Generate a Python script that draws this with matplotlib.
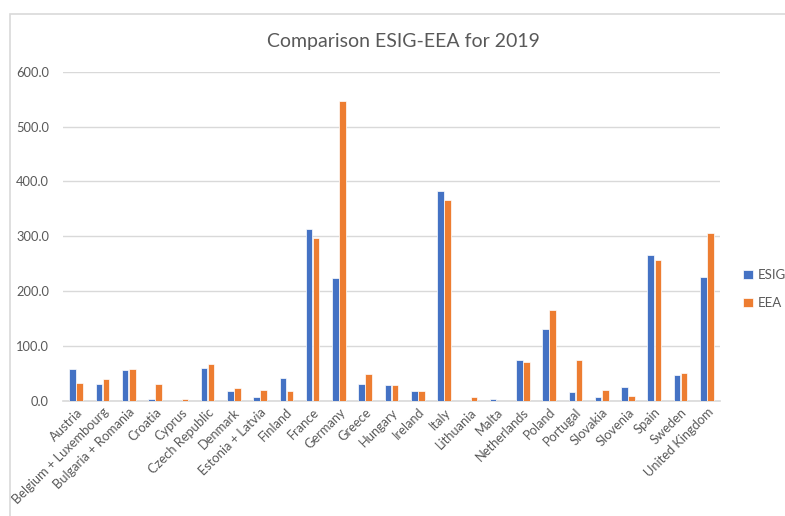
import matplotlib
matplotlib.use("Agg")
import matplotlib.pyplot as plt
import numpy as np
from matplotlib.patches import Rectangle

categories = ["Austria", "Belgium + Luxembourg", "Bulgaria + Romania", "Croatia", "Cyprus",
              "Czech Republic", "Denmark", "Estonia + Latvia", "Finland", "France", "Germany",
              "Greece", "Hungary", "Ireland", "Italy", "Lithuania", "Malta", "Netherlands",
              "Poland", "Portugal", "Slovakia", "Slovenia", "Spain", "Sweden", "United Kingdom"]
esig = [58, 30.5, 55, 2, 0, 60, 18, 5.5, 41.5, 312.6, 223, 30.5, 27.4, 16.5, 383,
        0, 2, 74.4, 131, 14.6, 5.5, 24.4, 265, 45.7, 225]
eea = [32, 39.7, 56.7, 30.5, 3, 67, 23, 19.5, 16.5, 296.7, 546.6, 48.8, 27.4, 18, 365.6,
       5.5, 0, 69.5, 164.5, 74.4, 19.5, 8.5, 256, 49.4, 306]
yticks = [0, 100, 200, 300, 400, 500, 600]

plt.rcParams['font.family'] = ['Lato', 'DejaVu Sans']
fig = plt.figure(figsize=(7.85, 5.16), dpi=100)
W, H = 785, 516
ax = fig.add_axes([63 / W, 1 - 400.5 / H, (720 - 63) / W, (400.5 - 71.7) / H])

# chart border
fig.patches.append(Rectangle((10 / W, -0.1), 1.2, 1 - 14 / H + 0.1, transform=fig.transFigure,
                             fill=False, edgecolor='#d9d9d9', linewidth=1.2, zorder=0))

x = np.arange(len(categories))
w = 0.25
ax.bar(x - 0.135, esig, w, color='#4472C4', edgecolor='white', linewidth=0.5, label='ESIG', zorder=3)
ax.bar(x + 0.135, eea, w, color='#ED7D31', edgecolor='white', linewidth=0.5, label='EEA', zorder=3)

ax.set_xlim(-0.5, len(categories) - 0.5)
ax.set_ylim(0, 600)
ax.set_yticks(yticks)
ax.set_yticklabels([f"{v:.1f}" for v in yticks], color='#595959', fontsize=9.3)
ax.yaxis.grid(True, color='#d9d9d9', linewidth=1)
ax.set_axisbelow(True)
for s in ['top', 'right', 'left']:
    ax.spines[s].set_visible(False)
ax.spines['bottom'].set_color('#d9d9d9')
ax.spines['bottom'].set_linewidth(1.2)
ax.tick_params(axis='both', length=0)
ax.tick_params(axis='y', pad=10)
ax.set_xticks(x)
ax.set_xticklabels(categories, rotation=45, ha='right', rotation_mode='anchor',
                   color='#595959', fontsize=9.3)
ax.tick_params(axis='x', pad=4)

fig.text(403 / W, 1 - 41 / H, "Comparison ESIG-EEA for 2019", ha='center', va='center',
         fontsize=14, color='#595959')

leg = ax.legend(loc='center left', bbox_to_anchor=(738 / W, 1 - 289 / H), bbox_transform=fig.transFigure,
                frameon=False, fontsize=9.5, handlelength=0.7, handleheight=0.7,
                handletextpad=0.4, labelspacing=1.2, borderaxespad=0)
for t in leg.get_texts():
    t.set_color('#595959')

fig.savefig("out.png", dpi=100)
